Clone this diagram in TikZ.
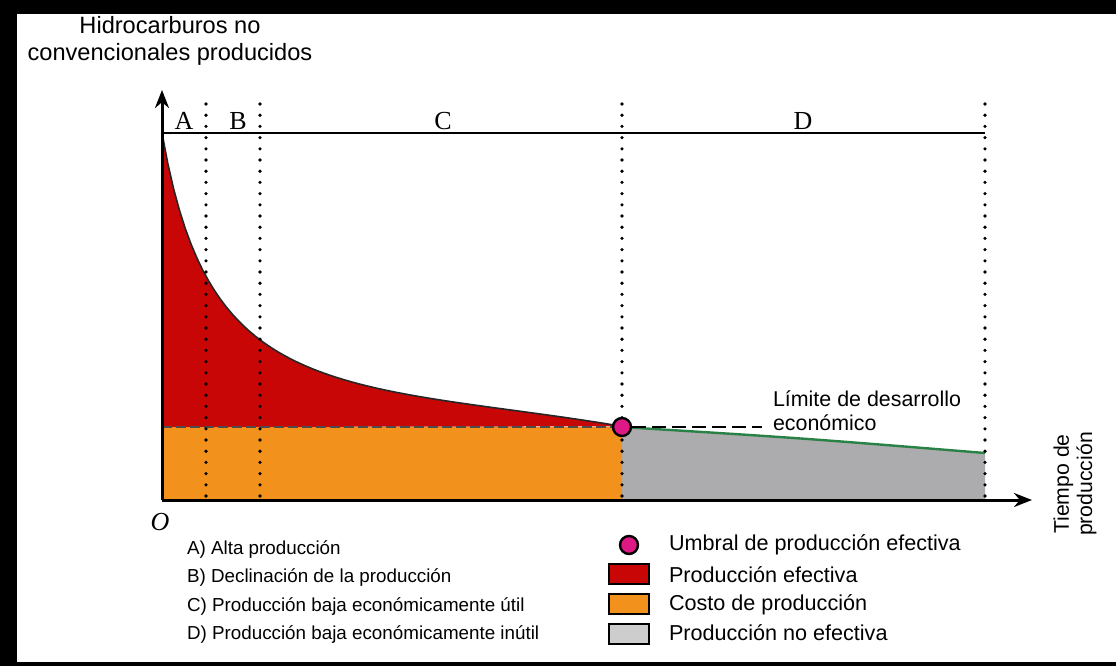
\documentclass[tikz,border=0pt]{standalone}
\usepackage{fontspec}
\setmainfont{Liberation Sans}
\newfontfamily\serifletters{Liberation Serif}
\usetikzlibrary{arrows.meta}

\definecolor{effred}{RGB}{200,6,6}
\definecolor{costorange}{RGB}{242,146,28}
\definecolor{noeffgray}{RGB}{172,172,174}
\definecolor{umbralpink}{RGB}{222,24,132}
\definecolor{tailgreen}{RGB}{40,130,70}

\tikzset{
  axis/.style={line width=1.5pt, -{Stealth[length=9pt,width=7pt]}},
  sep/.style={line width=1.8pt, line cap=round, dash pattern=on 0pt off 5.6pt},
  stage/.style={font=\serifletters\fontsize{13}{15}\selectfont},
  legtext/.style={anchor=west, font=\fontsize{9.4}{11}\selectfont},
  keytext/.style={anchor=west, font=\fontsize{10.8}{12}\selectfont},
  legbox/.style={draw, line width=1.2pt, minimum width=20pt, minimum height=10pt, inner sep=0pt},
  declare function={decline(\t)=462.7-187.92/((\t-105)/100)-6.8*((\t-162)/100)^2*((622-\t)/100)/14.39;},
}

\begin{document}
\begin{tikzpicture}[x=0.5pt,y=-0.5pt]
      \useasboundingbox (0,0) rectangle (1116,666);
      \fill[black] (0,0) rectangle (1116,666);
      \fill[white] (17,14) rectangle (1116,662);

      \coordinate (O) at (162,500);
      \coordinate (ytip) at (162,90);
      \coordinate (xtip) at (1032,500);
      \coordinate (topleft) at (162,133);
      \coordinate (topright) at (985,133);
      \coordinate (costleft) at (162,427);
      \coordinate (tailend) at (985,453);

      % areas
      \fill[costorange] (O) rectangle (622,427);
      \fill[noeffgray] (622,427) .. controls (800,438) .. (tailend) -- (985,500) -- (622,500) -- cycle;
      \fill[effred] (costleft) -- plot[domain=162:622, samples=80] (\x, {decline(\x)}) -- cycle;
      \draw[line width=0.8pt, black!85] plot[domain=162:622, samples=80] (\x, {decline(\x)});
      \draw[tailgreen, line width=1.2pt] (622,427) .. controls (800,438) .. (tailend);
      \draw[black!70, line width=0.7pt, dash pattern=on 5pt off 2pt] (costleft) -- (622,427);

      % stage separators
      \foreach \x/\n in {206/ab,260/bc,622/cd,985/dend} {
        \coordinate (\n-top) at (\x,104);
        \coordinate (\n-bot) at (\x,500);
        \draw[sep] (\n-top) -- (\n-bot);
      }
      \draw[line width=1pt] (topleft) -- (topright);
      \node at (184,121) [stage] (stA) {A};
      \node at (238,121) [stage] (stB) {B};
      \node at (443,121) [stage] (stC) {C};
      \node at (803,121) [stage] (stD) {D};

      % axes
      \draw[axis] (O) -- (ytip);
      \draw[axis] (O) -- (xtip);
      \node at (160,522) [font=\serifletters\itshape\fontsize{13}{15}\selectfont] (origin) {O};
      \node at (170,41) [align=center, font=\fontsize{11.8}{13.6}\selectfont] (ylabel) {Hidrocarburos no\\convencionales producidos};
      \node at (1075,484) [rotate=90, align=center, font=\fontsize{10.6}{11.6}\selectfont] (xlabel) {Tiempo de\\producción};

      % economic limit
      \coordinate (limend) at (762,427);
      \node at (622,427) [circle, draw, line width=1.2pt, fill=umbralpink, minimum size=9pt, inner sep=0pt] (umbral) {};
      \draw[line width=1.3pt, dash pattern=on 7pt off 3pt] (umbral) -- (limend);
      \node at (766,411) [anchor=west, align=left, font=\fontsize{10.7}{12}\selectfont] (limit) {Límite de desarrollo\\económico};

      % legend
      \node at (180,550) [legtext] (legA) {A) Alta producción};
      \node at (180,578) [legtext] (legB) {B) Declinación de la producción};
      \node at (180,607) [legtext] (legC) {C) Producción baja económicamente útil};
      \node at (180,635) [legtext] (legD) {D) Producción baja económicamente inútil};

      \node at (629,545) [circle, draw, line width=1.2pt, fill=umbralpink, minimum size=9pt, inner sep=0pt] (keyumbral) {};
      \node at (629,574) [legbox, fill=effred] (keyred) {};
      \node at (629,604) [legbox, fill=costorange] (keyorange) {};
      \node at (629,634) [legbox, fill=noeffgray!60] (keygray) {};
      \node at (662,545) [keytext] (txtumbral) {Umbral de producción efectiva};
      \node at (662,575) [keytext] (txtred) {Producción efectiva};
      \node at (662,605) [keytext] (txtorange) {Costo de producción};
      \node at (662,633) [keytext] (txtgray) {Producción no efectiva};
\end{tikzpicture}
\end{document}
